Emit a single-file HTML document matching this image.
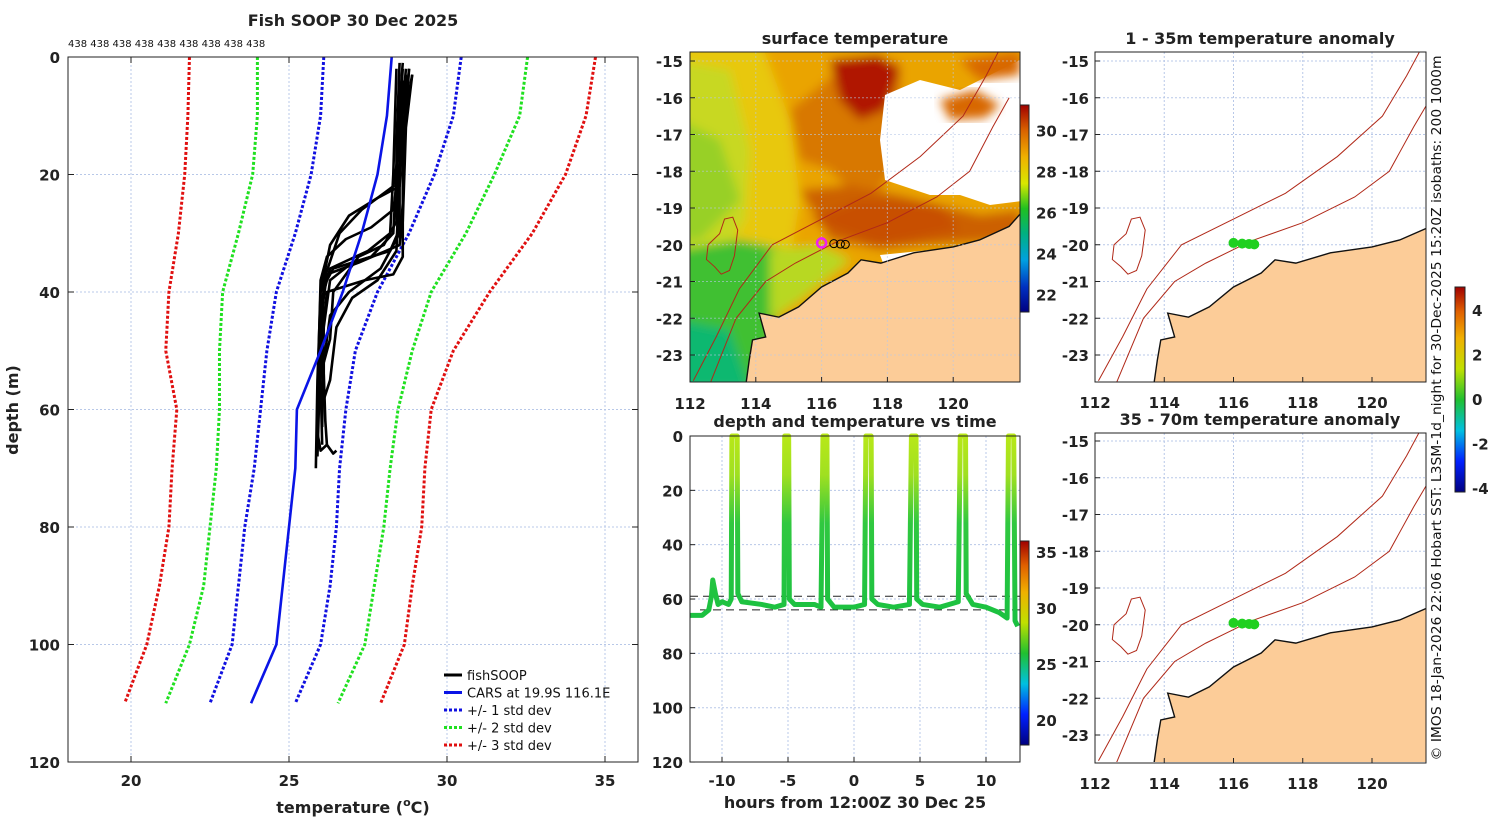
<!DOCTYPE html>
<html><head><meta charset="utf-8"><style>
html,body{margin:0;padding:0;background:#fff;}
svg{display:block;font-family:"DejaVu Sans","Liberation Sans",sans-serif;}
.t{font-weight:bold;font-size:16px;fill:#222;}
.tk{font-weight:bold;font-size:15px;fill:#222;}
</style></head><body>
<svg id="fig" width="1500" height="820" viewBox="0 0 1500 820" xmlns="http://www.w3.org/2000/svg">
<defs>
<linearGradient id="sstcb" x1="0" y1="1" x2="0" y2="0">
<stop offset="0" stop-color="#000080"/><stop offset="0.12" stop-color="#0030c0"/><stop offset="0.25" stop-color="#00a0e0"/><stop offset="0.38" stop-color="#00b080"/><stop offset="0.5" stop-color="#20c020"/><stop offset="0.62" stop-color="#d8e800"/><stop offset="0.75" stop-color="#f0b000"/><stop offset="0.88" stop-color="#d86000"/><stop offset="1" stop-color="#a00000"/>
</linearGradient>
<linearGradient id="jet" x1="0" y1="1" x2="0" y2="0">
<stop offset="0" stop-color="#000080"/><stop offset="0.15" stop-color="#0020ff"/><stop offset="0.3" stop-color="#00c0e0"/><stop offset="0.45" stop-color="#20c030"/><stop offset="0.6" stop-color="#c0e000"/><stop offset="0.75" stop-color="#f0b000"/><stop offset="0.88" stop-color="#e06000"/><stop offset="1" stop-color="#a00000"/>
</linearGradient>
<linearGradient id="tsgrad" gradientUnits="userSpaceOnUse" x1="0" y1="436" x2="0" y2="630">
<stop offset="0" stop-color="#b8e818"/><stop offset="0.2" stop-color="#a0e020"/><stop offset="0.45" stop-color="#30c840"/><stop offset="1" stop-color="#18c040"/>
</linearGradient>
<filter id="blur"><feGaussianBlur stdDeviation="5"/></filter>
<clipPath id="cmap"><rect x="690" y="52" width="330" height="330"/></clipPath>
<clipPath id="cr1"><rect x="1095" y="52" width="331" height="330"/></clipPath>
<clipPath id="cr2"><rect x="1095" y="433" width="331" height="329"/></clipPath>
</defs>
<g id="root"></g>
</svg>
<script>
// ---------- left profile panel data ----------
const depths = [0,10,20,30,40,50,60,70,80,90,100,110];
const carsT  = [28.25,28.1,27.8,27.3,26.7,26.0,25.25,25.2,25.0,24.8,24.6,23.8];
const sd1L = [26.1,26.0,25.7,25.2,24.6,24.3,24.1,23.9,23.6,23.4,23.2,22.5];
const sd1R = [30.45,30.2,29.6,28.8,27.8,27.1,26.8,26.6,26.5,26.3,26.0,25.2];
const sd2L = [24.0,24.0,23.85,23.4,22.9,22.8,22.8,22.7,22.5,22.3,21.85,21.1];
const sd2R = [32.55,32.3,31.5,30.6,29.5,28.9,28.45,28.2,28.0,27.7,27.4,26.55];
const sd3L = [21.85,21.8,21.7,21.5,21.2,21.1,21.45,21.3,21.2,20.9,20.5,19.8];
const sd3R = [34.7,34.4,33.75,32.7,31.35,30.2,29.5,29.3,29.2,28.9,28.65,27.9];
const fishProfiles = [
 [[28.6,1],[28.5,8],[28.4,20],[28.3,30],[27.6,34],[26.4,36],[26.0,40],[25.9,55],[25.85,70]],
 [[28.8,2],[28.7,10],[28.6,25],[28.5,32],[27.2,35],[26.2,37],[26.0,45],[25.9,62]],
 [[28.9,3],[28.6,12],[28.5,22],[27.8,24],[26.9,27],[26.3,32],[26.0,40],[25.95,60]],
 [[28.7,2],[28.5,15],[28.3,22],[27.3,26],[26.6,30],[26.1,38],[26.0,55],[26.05,66]],
 [[28.5,1],[28.4,15],[28.4,28],[28.0,32],[27.2,34],[26.8,37],[26.4,40],[26.3,48],[26.0,54]],
 [[28.6,4],[28.5,18],[28.4,33],[27.8,38],[27.0,41],[26.5,46],[26.3,55],[26.0,60]],
 [[28.4,2],[28.3,20],[28.2,30],[27.5,33],[26.3,36],[26.0,42],[25.9,64],[26.0,67],[26.2,66]],
 [[28.7,3],[28.6,20],[28.6,34],[28.3,37],[27.4,38],[26.2,40],[26.0,50],[25.9,68]],
 [[28.8,2],[28.5,18],[28.3,26],[27.6,29],[26.8,31],[26.2,34],[26.0,38],[25.9,58]],
 [[28.6,2],[28.5,10],[28.5,30],[27.9,36],[26.9,40],[26.3,44],[26.1,52],[26.1,58]],
 [[28.9,3],[28.7,12],[28.6,28],[28.2,33],[27.0,35],[26.3,38],[26.1,46],[26.05,63]],
 [[26.1,54],[26.15,62],[26.2,66],[26.4,67.5],[26.5,67]]
];
const profXTicks = [20,25,30,35];
const profYTicks = [0,20,40,60,80,100,120];
// ---------- time series data ----------
const tsHours = [-12.4,-11.5,-11.0,-10.8,-10.7,-10.5,-10.3,-10.0,-9.5,-9.3,-9.25,-8.85,-8.8,-8.5,-7,-6,-5.3,-5.25,-4.95,-4.9,-4.5,-3,-2.5,-2.35,-2.05,-2.0,-1.5,0,0.8,0.9,1.3,1.35,1.8,3,4.2,4.35,4.7,4.75,5.2,6.5,7.9,8.05,8.45,8.5,9,10,11,11.6,11.7,12.1,12.2,12.4];
const tsDepth = [66,66,64,59,53,58,62,61,62,60,0,0,58,61,62,63,62,0,0,60,62,62,63,0,0,60,63,63,62,0,0,60,62,63,62,0,0,60,62,63,61,0,0,58,62,63,65,67,0,0,68,70];
const tsXTicks = [-10,-5,0,5,10];
const tsYTicks = [0,20,40,60,80,100,120];
const dashDepths = [59,64];
// ---------- map data ----------
const latTicks = [-15,-16,-17,-18,-19,-20,-21,-22,-23];
const lonTicks = [112,114,116,118,120];
const coastLon = [122.2,121.7,120.8,120.0,118.8,117.8,117.2,116.8,116.0,115.3,114.7,114.1,114.3,113.9,113.8,113.7];
const coastLat = [-19.0,-19.5,-19.87,-20.06,-20.22,-20.5,-20.41,-20.77,-21.15,-21.69,-21.97,-21.86,-22.51,-22.59,-23.14,-23.8];
const iso200Lon = [112.6,113.4,114.3,115.2,116.5,118,119.5,120.5,121.2,121.7];
const iso200Lat = [-23.8,-22.0,-21.0,-20.5,-19.9,-19.4,-18.7,-18.0,-16.8,-16.0];
const iso1000Lon = [112.1,112.8,113.5,114.5,116,117.5,119,120.3,121,121.4];
const iso1000Lat = [-23.7,-22.5,-21.2,-20.0,-19.3,-18.6,-17.6,-16.5,-15.4,-14.7];
const reefLon = [112.55,112.9,113.05,113.3,113.45,113.35,113.2,112.95,112.75,112.5];
const reefLat = [-20.0,-19.7,-19.3,-19.25,-19.6,-20.3,-20.7,-20.8,-20.6,-20.4];
const shipLon = [116.0,116.25,116.45,116.6];
const shipLat = [-19.95,-19.97,-19.98,-19.99];
const sstCbTicks = [22,24,26,28,30];
const tsCbTicks = [20,25,30,35];
const anomCbTicks = [-4,-2,0,2,4];

const NS='http://www.w3.org/2000/svg';
const root=document.getElementById('root');
function el(tag,attrs,parent){const e=document.createElementNS(NS,tag);for(const k in attrs)e.setAttribute(k,attrs[k]);(parent||root).appendChild(e);return e;}
function txt(x,y,s,cls,anchor,parent,extra){const e=el('text',Object.assign({x:x,y:y,class:cls,'text-anchor':anchor||'middle'},extra||{}),parent);e.textContent=s;return e;}

// ===== left panel =====
const PX=T=>67.8+(T-18)*31.6, PY=d=>57+d*5.875;
const gL=el('g',{});


profXTicks.forEach(v=>{el('line',{x1:PX(v),x2:PX(v),y1:57,y2:762,stroke:'#b8c8e8','stroke-dasharray':'2,2','stroke-width':1},gL);});
profYTicks.forEach(v=>{el('line',{x1:68,x2:638,y1:PY(v),y2:PY(v),stroke:'#b8c8e8','stroke-dasharray':'2,2','stroke-width':1},gL);});
function series(arr,color,dash,name,w){const pts=depths.map((d,i)=>PX(arr[i])+','+PY(d)).join(' ');const p=el('polyline',{points:pts,fill:'none',stroke:color,'stroke-width':w||3,'stroke-dasharray':dash||'none'},gL);}
series(sd3L,'#e01010','3,2','sd3-left');series(sd3R,'#e01010','3,2','sd3-right');
series(sd2L,'#20e020','3,2','sd2-left');series(sd2R,'#20e020','3,2','sd2-right');
series(sd1L,'#1010e0','3,2','sd1-left');series(sd1R,'#1010e0','3,2','sd1-right');
fishProfiles.forEach((pr,i)=>{const p=el('polyline',{points:pr.map(q=>PX(q[0])+','+PY(q[1])).join(' '),fill:'none',stroke:'#000','stroke-width':2.6,'stroke-linejoin':'round'},gL);

});
series(carsT,'#0a14e6',null,'cars-profile',2.6);
el('rect',{x:68,y:57,width:570,height:705,fill:'none',stroke:'#222','stroke-width':1},gL);
profXTicks.forEach(v=>{el('line',{x1:PX(v),x2:PX(v),y1:762,y2:756,stroke:'#222'},gL);el('line',{x1:PX(v),x2:PX(v),y1:57,y2:63,stroke:'#222'},gL);txt(PX(v),786,String(v),'tk','middle',gL);});
profYTicks.forEach(v=>{el('line',{x1:68,x2:74,y1:PY(v),y2:PY(v),stroke:'#222'},gL);el('line',{x1:638,x2:632,y1:PY(v),y2:PY(v),stroke:'#222'},gL);txt(60,PY(v)+6,String(v),'tk','end',gL);});
const xt=txt(353,813,'temperature (','t','middle',gL);const sup=el('tspan',{dy:-7,'font-size':11},xt);sup.textContent='o';const cc=el('tspan',{dy:7},xt);cc.textContent='C)';

const yt=txt(18,410,'depth (m)','t','middle',gL,{transform:'rotate(-90 18 410)'});

const tt=txt(353,26,'Fish SOOP 30 Dec 2025','t','middle',gL,{'font-size':17});

const cnt=txt(68,47,'438 438 438 438 438 438 438 438 438','','start',gL,{'font-size':10,fill:'#111'});

// legend
const legItems=[['fishSOOP','#000',null],['CARS at 19.9S 116.1E','#0a14e6',null],['+/- 1 std dev','#1010e0','3,2'],['+/- 2 std dev','#20e020','3,2'],['+/- 3 std dev','#e01010','3,2']];
const gLeg=el('g',{},gL);


legItems.forEach((it,i)=>{const y=675+i*17.5;el('line',{x1:444,x2:462,y1:y,y2:y,stroke:it[1],'stroke-width':3,'stroke-dasharray':it[2]||'none'},gLeg);const t=txt(467,y+5,it[0],'','start',gLeg,{'font-size':13,fill:'#111'});});

// ===== SST map =====
const MX=lon=>690+(lon-112)*32.9, MY=lat=>61+(-15-lat)*36.75;
const gM=el('g',{});


const field=el('g',{'clip-path':'url(#cmap)'},gM);
const fb=el('g',{filter:'url(#blur)'},field);
el('rect',{x:680,y:40,width:350,height:350,fill:'#eaa400'},fb);
el('polygon',{points:'680,40 760,40 790,120 800,200 790,260 770,300 680,300',fill:'#e8c810'},fb);
el('polygon',{points:'680,60 730,70 750,150 745,220 720,260 680,260',fill:'#c8d820'},fb);
el('polygon',{points:'680,120 720,140 740,200 700,240 680,240',fill:'#98d028'},fb);
el('polygon',{points:'680,250 740,240 790,250 810,280 775,320 760,390 680,390',fill:'#40c030'},fb);
el('polygon',{points:'770,250 820,245 850,260 800,300 770,320',fill:'#b8d820'},fb);
el('polygon',{points:'680,320 730,330 750,390 680,390',fill:'#10b870'},fb);
el('polygon',{points:'790,110 840,70 900,60 905,150 880,190 860,200 830,170 800,160',fill:'#d87800'},fb);
el('polygon',{points:'830,60 880,55 900,70 885,110 860,120 840,100',fill:'#b01800'},fb);
el('polygon',{points:'800,190 850,185 900,195 980,215 1020,210 1020,240 930,245 880,250 830,240',fill:'#cc6000'},fb);
el('polygon',{points:'810,220 860,200 940,205 960,230 880,245',fill:'#c85000'},fb);
// clouds
el('polygon',{points:'885,95 920,80 960,90 1020,60 1030,60 1030,200 990,205 960,195 930,195 885,180 880,140',fill:'#ffffff'},field);
el('polygon',{points:'940,100 975,90 1000,105 985,118 950,120',fill:'#d86800',filter:'url(#blur)'},field);
el('polygon',{points:'960,60 1020,52 1020,75 980,80',fill:'#d86800',filter:'url(#blur)'},field);
el('polygon',{points:'880,255 930,250 925,265 885,268',fill:'#ffffff'},field);
// land
function coastPts(fx,fy){return coastLon.map((l,i)=>fx(l)+','+fy(coastLat[i])).join(' ');}
const land=el('polygon',{points:coastPts(MX,MY)+' 1030,392 1030,200',fill:'#fccc98',stroke:'#111','stroke-width':1.4},field);

function isoLine(lons,lats,fx,fy,parent,name){const p=el('polyline',{points:lons.map((l,i)=>fx(l)+','+fy(lats[i])).join(' '),fill:'none',stroke:'#b02818','stroke-width':1},parent);}
isoLine(iso200Lon,iso200Lat,MX,MY,field,'isobath-200');
isoLine(iso1000Lon,iso1000Lat,MX,MY,field,'isobath-1000');
el('polygon',{points:reefLon.map((l,i)=>MX(l)+','+MY(reefLat[i])).join(' '),fill:'none',stroke:'#b02818','stroke-width':1},field);
lonTicks.forEach(v=>el('line',{x1:MX(v),x2:MX(v),y1:52,y2:382,stroke:'#b8c8e8','stroke-dasharray':'2,2','stroke-opacity':0.6},field));
latTicks.forEach(v=>el('line',{x1:690,x2:1020,y1:MY(v),y2:MY(v),stroke:'#b8c8e8','stroke-dasharray':'2,2','stroke-opacity':0.6},field));
shipLon.slice(1).forEach((l,i)=>{el('circle',{cx:MX(l)+4,cy:MY(shipLat[i+1]),r:4,fill:'none',stroke:'#000','stroke-width':1},field);});
const sh=el('circle',{cx:MX(shipLon[0]),cy:MY(shipLat[0]),r:4.5,fill:'none',stroke:'#f020f0','stroke-width':2.5},field);


el('rect',{x:690,y:52,width:330,height:330,fill:'none',stroke:'#222'},gM);
lonTicks.forEach(v=>{txt(MX(v),409,String(v),'tk','middle',gM);el('line',{x1:MX(v),x2:MX(v),y1:382,y2:377,stroke:'#222'},gM);});
latTicks.forEach(v=>{txt(683,MY(v)+6,String(v),'tk','end',gM);el('line',{x1:690,x2:695,y1:MY(v),y2:MY(v),stroke:'#222'},gM);});
const mt=txt(855,44,'surface temperature','t','middle',gM,{'font-size':17});

// colorbar
const CBY=v=>312-(v-21.2)*(207/10.1);
const cb1=el('rect',{x:1020,y:105,width:9,height:207,fill:'url(#sstcb)',stroke:'#222'},gM);

sstCbTicks.forEach(v=>{txt(1036,CBY(v)+5,String(v),'tk','start',gM,{'font-size':13});});

// ===== time series =====
const TX=h=>854+h*13.2, TY=d=>436+d*2.717;
const gT=el('g',{});


tsXTicks.forEach(v=>el('line',{x1:TX(v),x2:TX(v),y1:436,y2:762,stroke:'#b8c8e8','stroke-dasharray':'2,2'},gT));
tsYTicks.forEach(v=>el('line',{x1:690,x2:1020,y1:TY(v),y2:TY(v),stroke:'#b8c8e8','stroke-dasharray':'2,2'},gT));
dashDepths.forEach((d,i)=>{const l=el('line',{x1:i?700:690,x2:1020,y1:TY(d),y2:TY(d),stroke:'#222','stroke-dasharray':'8,5','stroke-width':1},gT);});
const ts=el('polyline',{points:tsHours.map((h,i)=>TX(h)+','+TY(tsDepth[i])).join(' '),fill:'none',stroke:'url(#tsgrad)','stroke-width':5,'stroke-linejoin':'round'},gT);


el('rect',{x:690,y:436,width:330,height:326,fill:'none',stroke:'#222'},gT);
tsXTicks.forEach(v=>{txt(TX(v),786,String(v),'tk','middle',gT);el('line',{x1:TX(v),x2:TX(v),y1:762,y2:757,stroke:'#222'},gT);});
tsYTicks.forEach(v=>{txt(683,TY(v)+6,String(v),'tk','end',gT);el('line',{x1:690,x2:695,y1:TY(v),y2:TY(v),stroke:'#222'},gT);});
const tst=txt(855,427,'depth and temperature vs time','t','middle',gT,{'font-size':17});

const tsx=txt(855,808,'hours from 12:00Z 30 Dec 25','t','middle',gT,{'font-size':17});

const CB2=v=>609-(v-30)*11.2;
const cb2=el('rect',{x:1020,y:541,width:9,height:204,fill:'url(#jet)',stroke:'#222'},gT);

tsCbTicks.forEach(v=>txt(1036,CB2(v)+5,String(v),'tk','start',gT,{'font-size':13}));

// ===== anomaly maps =====
function anomMap(y0,top,title,clip,name){
 const RX=lon=>1095+(lon-112)*34.625, RY=lat=>top+(-15-lat)*36.75;
 const g=el('g',{});
 
 
 const c=el('g',{'clip-path':'url(#'+clip+')'},g);
 lonTicks.forEach(v=>el('line',{x1:RX(v),x2:RX(v),y1:y0,y2:y0+330,stroke:'#b8c8e8','stroke-dasharray':'2,2'},c));
 latTicks.forEach(v=>el('line',{x1:1095,x2:1426,y1:RY(v),y2:RY(v),stroke:'#b8c8e8','stroke-dasharray':'2,2'},c));
 el('polygon',{points:coastPts(RX,RY)+' 1440,'+(y0+340)+' 1440,'+(y0+100),fill:'#fccc98',stroke:'#111','stroke-width':1.4},c);
 isoLine(iso200Lon,iso200Lat,RX,RY,c,'isobath-200');
 isoLine(iso1000Lon,iso1000Lat,RX,RY,c,'isobath-1000');
 el('polygon',{points:reefLon.map((l,i)=>RX(l)+','+RY(reefLat[i])).join(' '),fill:'none',stroke:'#b02818','stroke-width':1},c);
 shipLon.forEach((l,i)=>{const d=el('circle',{cx:RX(l),cy:RY(shipLat[i]),r:5,fill:'#20d020'},c);});
 el('rect',{x:1095,y:y0,width:331,height:330,fill:'none',stroke:'#222'},g);
 lonTicks.forEach(v=>{txt(RX(v),y0+356,String(v),'tk','middle',g);el('line',{x1:RX(v),x2:RX(v),y1:y0+330,y2:y0+325,stroke:'#222'},g);});
 latTicks.forEach(v=>{txt(1089,RY(v)+6,String(v),'tk','end',g);el('line',{x1:1095,x2:1100,y1:RY(v),y2:RY(v),stroke:'#222'},g);});
 txt(1260,y0-8,title,'t','middle',g,{'font-size':17});
}
anomMap(52,61,'1 - 35m temperature anomaly','cr1','anomaly-map-shallow');
anomMap(433,441,'35 - 70m temperature anomaly','cr2','anomaly-map-deep');
const CB3=v=>400-v*22.25;
const cb3=el('rect',{x:1455,y:287,width:10,height:205,fill:'url(#jet)',stroke:'#222'});

anomCbTicks.forEach(v=>txt(1472,CB3(v)+5,String(v),'tk','start',null,{'font-size':13}));
const cr=txt(1441,408,'© IMOS 18-Jan-2026 22:06 Hobart SST: L3SM-1d_night for 30-Dec-2025 15:20Z isobaths: 200  1000m','','middle',null,{'font-size':13,fill:'#111',transform:'rotate(-90 1441 408)',textLength:705,lengthAdjust:'spacingAndGlyphs'});

</script>
</body></html>
